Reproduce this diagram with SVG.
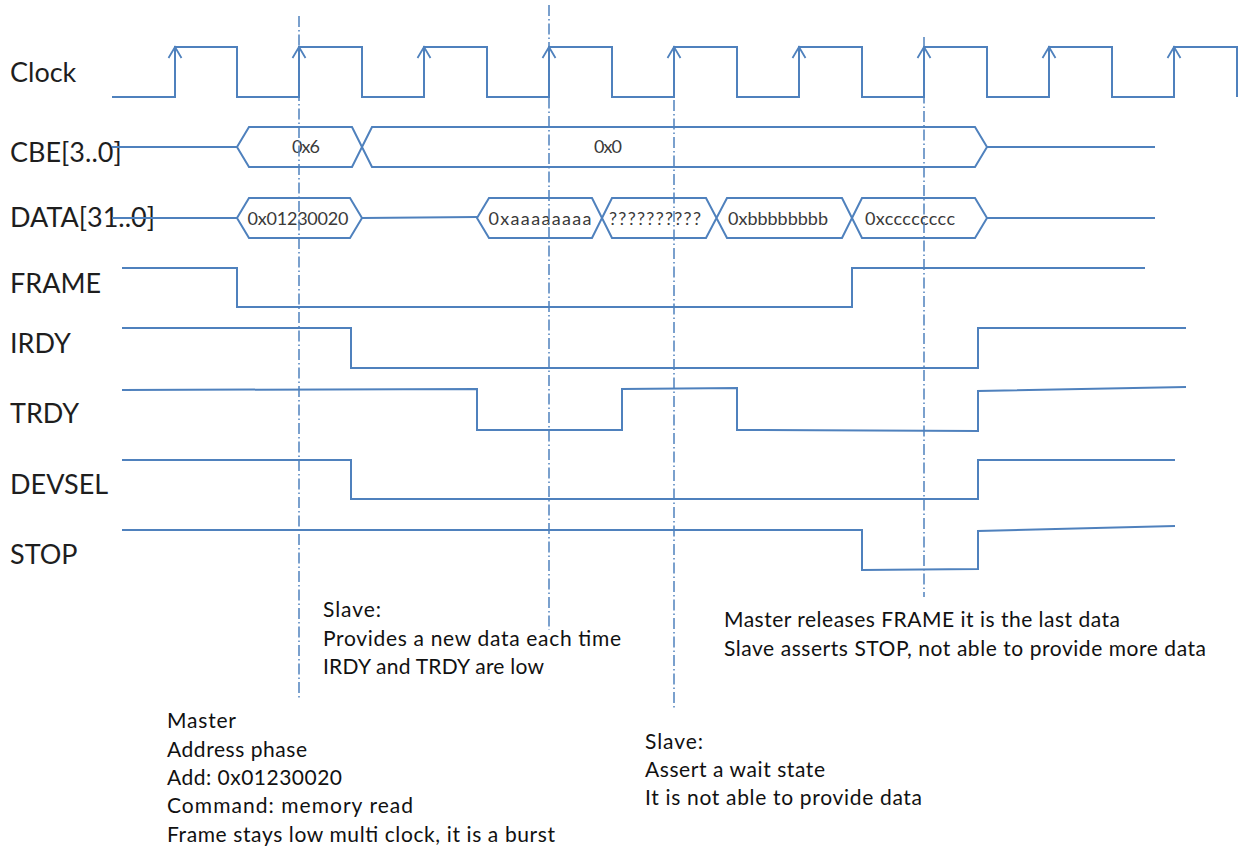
<svg xmlns="http://www.w3.org/2000/svg" width="1244" height="852" viewBox="0 0 1244 852">
  <style>
    .wave { fill: none; stroke: #4F81BD; stroke-width: 2; stroke-linejoin: miter; }
    .edge { fill: none; stroke: #4F81BD; stroke-width: 1.8; }
    .marker-line { fill: none; stroke: #4F81BD; stroke-width: 1.5; stroke-dasharray: 11 3 1.5 3; }
    .label { font-family: Lato, "Liberation Sans", sans-serif; font-size: 27px; fill: #1e1e1e; }
    .bus { font-family: Lato, "Liberation Sans", sans-serif; font-size: 18px; fill: #3a3a3a; text-anchor: middle; }
    .note { font-family: Lato, "Liberation Sans", sans-serif; font-size: 21px; fill: #111111; }
  </style>
  <rect width="1244" height="852" fill="#ffffff"/>

  <!-- signal names -->
  <g id="labels">
    <text class="label" x="10" y="82">Clock</text>
    <text class="label" x="10" y="162">CBE[3..0]</text>
    <text class="label" x="10" y="227">DATA[31..0]</text>
    <text class="label" x="10" y="293">FRAME</text>
    <text class="label" x="10" y="353">IRDY</text>
    <text class="label" x="10" y="423">TRDY</text>
    <text class="label" x="10" y="494">DEVSEL</text>
    <text class="label" x="10" y="564">STOP</text>
  </g>

  <!-- clock with rising-edge arrows -->
  <g id="clock">
    <path class="wave" d="M112,97 H175 V47 H237 V97 H299 V47 H362 V97 H424 V47 H487 V97 H549 V47 H612 V97 H674 V47 H737 V97 H799 V47 H862 V97 H924 V47 H987 V97 H1049 V47 H1112 V97 H1174 V47 H1237 V97"/>
    <path class="edge" d="M168.5,58 L175,47 L181.5,58 M292.5,58 L299,47 L305.5,58 M417.5,58 L424,47 L430.5,58 M542.5,58 L549,47 L555.5,58 M667.5,58 L674,47 L680.5,58 M792.5,58 L799,47 L805.5,58 M917.5,58 L924,47 L930.5,58 M1042.5,58 L1049,47 L1055.5,58 M1167.5,58 L1174,47 L1180.5,58"/>
  </g>

  <!-- command / byte-enable bus -->
  <g id="cbe">
    <path class="wave" d="M112,147 H237 M987,147 H1155"/>
    <path class="wave" d="M237,147 L249,127 H352 L372,167 H975 L987,147 L975,127 H372 L352,167 H249 Z"/>
    <text class="bus" x="306" y="153" textLength="28">0x6</text>
    <text class="bus" x="608" y="153" textLength="28">0x0</text>
  </g>

  <!-- address / data bus -->
  <g id="data">
    <path class="wave" d="M112,218 H237 M362,218 L477,217 M987,218 H1155"/>
    <path class="wave" d="M237,218 L249,198 H350 L362,218 L350,238 H249 Z"/>
    <path class="wave" d="M477,218 L489,198 H592 L612,238 H706 L727,198 H842 L862,238 H975 L987,218 L975,198 H862 L842,238 H727 L706,198 H612 L592,238 H489 Z"/>
    <text class="bus" x="298" y="225" textLength="101">0x01230020</text>
    <text class="bus" x="540" y="225" textLength="103">0xaaaaaaaa</text>
    <text class="bus" x="655" y="225" textLength="92">??????????</text>
    <text class="bus" x="778" y="225" textLength="100">0xbbbbbbbb</text>
    <text class="bus" x="910" y="225" textLength="90">0xcccccccc</text>
  </g>

  <g id="frame">
    <path class="wave" d="M122,268 H237 V307 H852 V268 H1145"/>
  </g>
  <g id="irdy">
    <path class="wave" d="M122,328 H351 V368 H978 V328 H1186"/>
  </g>
  <g id="trdy">
    <path class="wave" d="M122,390 L477,389 V430 H622 V389 L737,388 V430 L978,431 V391 L1186,387"/>
  </g>
  <g id="devsel">
    <path class="wave" d="M122,460 H351 V499 H978 V460 H1175"/>
  </g>
  <g id="stop">
    <path class="wave" d="M122,530 H862 V570 L978,569 V531 L1175,526"/>
  </g>

  <!-- clock-edge reference lines -->
  <g id="connectors">
    <line class="marker-line" x1="299" y1="16" x2="299" y2="698"/>
    <line class="marker-line" x1="549" y1="5" x2="549" y2="630"/>
    <line class="marker-line" x1="674" y1="100" x2="674" y2="708"/>
    <line class="marker-line" x1="924" y1="37" x2="924" y2="597"/>
  </g>

  <!-- annotations -->
  <g id="note-slave-data">
    <text class="note" x="323" y="617" textLength="58">Slave:</text>
    <text class="note" x="323" y="646" textLength="298">Provides a new data each time</text>
    <text class="note" x="323" y="674" textLength="221">IRDY and TRDY are low</text>
  </g>
  <g id="note-master-address">
    <text class="note" x="167" y="728" textLength="69">Master</text>
    <text class="note" x="167" y="757" textLength="140">Address phase</text>
    <text class="note" x="167" y="785" textLength="175">Add: 0x01230020</text>
    <text class="note" x="167" y="813" textLength="246">Command: memory read</text>
    <text class="note" x="167" y="842" textLength="388">Frame stays low multi clock, it is a burst</text>
  </g>
  <g id="note-master-release">
    <text class="note" x="724" y="627" textLength="396">Master releases FRAME it is the last data</text>
    <text class="note" x="724" y="656" textLength="482">Slave asserts STOP, not able to provide more data</text>
  </g>
  <g id="note-slave-wait">
    <text class="note" x="645" y="749" textLength="58">Slave:</text>
    <text class="note" x="645" y="777" textLength="180">Assert a wait state</text>
    <text class="note" x="645" y="805" textLength="277">It is not able to provide data</text>
  </g>
</svg>
